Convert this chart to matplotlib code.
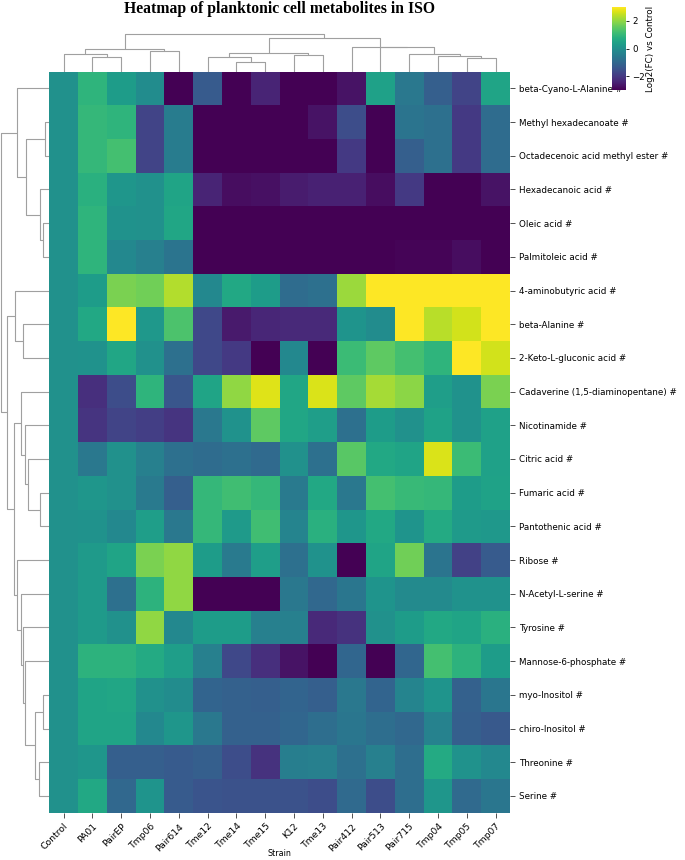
import numpy as np
import matplotlib
matplotlib.use("Agg")
import matplotlib.pyplot as plt
from matplotlib.collections import LineCollection

# ---- data ----
strains = ["Control", "PA01", "PairEP", "Tmp06", "Pair614", "Tme12", "Tme14", "Tme15",
           "K12", "Tme13", "Pair412", "Pair513", "Pair715", "Tmp04", "Tmp05", "Tmp07"]

metabolites = [
    "beta-Cyano-L-Alanine #",
    "Methyl hexadecanoate #",
    "Octadecenoic acid methyl ester #",
    "Hexadecanoic acid #",
    "Oleic acid #",
    "Palmitoleic acid #",
    "4-aminobutyric acid #",
    "beta-Alanine #",
    "2-Keto-L-gluconic acid #",
    "Cadaverine (1,5-diaminopentane) #",
    "Nicotinamide #",
    "Citric acid #",
    "Fumaric acid #",
    "Pantothenic acid #",
    "Ribose #",
    "N-Acetyl-L-serine #",
    "Tyrosine #",
    "Mannose-6-phosphate #",
    "myo-Inositol #",
    "chiro-Inositol #",
    "Threonine #",
    "Serine #",
]

# log2(FC) vs Control, one row per metabolite (column order = strains)
log2fc = np.array([
    [0, 0.9, 0.3, -0.1, -3, -1.3, -3, -2.4, -3, -3, -2.7, 0.4, -0.6, -1.2, -1.8, 0.5],
    [0, 1.0, 0.9, -1.8, -0.5, -3, -3, -3, -3, -2.7, -1.6, -3, -0.7, -0.8, -2.0, -0.9],
    [0, 1.0, 1.2, -1.8, -0.5, -3, -3, -3, -3, -3, -2.0, -3, -1.2, -0.8, -2.0, -0.9],
    [0, 0.8, 0.15, 0.0, 0.5, -2.4, -2.8, -2.75, -2.55, -2.45, -2.45, -2.8, -2.0, -3, -3, -2.7],
    [0, 0.9, 0.05, 0.0, 0.55, -3, -3, -3, -3, -3, -3, -3, -3, -3, -3, -3],
    [0, 0.9, -0.2, -0.4, -0.7, -3, -3, -3, -3, -3, -3, -3, -2.95, -2.95, -2.8, -3],
    [0, 0.3, 1.8, 1.7, 2.3, -0.2, 0.6, 0.3, -0.9, -0.8, 2.1, 3, 3, 3, 3, 3],
    [0, 0.6, 3, 0.2, 1.3, -1.7, -2.6, -2.35, -2.3, -2.3, 0.1, -0.1, 3, 2.35, 2.6, 3],
    [0, 0.05, 0.55, 0, -0.8, -1.7, -2.0, -3, -0.2, -3, 1.1, 1.5, 1.2, 0.9, 3, 2.6],
    [0, -2.2, -1.6, 0.9, -1.4, 0.5, 2.0, 2.7, 0.55, 2.65, 1.5, 2.2, 1.95, 0.35, 0.05, 1.8],
    [0, -2.1, -1.8, -1.9, -2.1, -0.6, 0.05, 1.5, 0.55, 0.35, -0.8, 0.3, 0.0, 0.45, 0.05, 0.4],
    [0, -0.6, 0, -0.4, -0.8, -0.9, -0.8, -0.95, 0, -0.8, 1.45, 0.6, 0.5, 2.65, 1.1, 0.4],
    [0, 0.15, 0, -0.55, -1.2, 1.0, 1.15, 1.0, -0.55, 0.6, -0.6, 1.2, 1.05, 1.0, 0.3, 0.45],
    [0, 0.05, -0.2, 0.35, -0.6, 1.0, 0.25, 1.15, -0.3, 0.8, 0.15, 0.6, 0.1, 0.65, 0.25, 0.2],
    [0, 0.25, 0.5, 1.8, 2.0, 0.3, -0.55, 0.35, -0.8, 0.05, -3, 0.5, 1.7, -0.7, -1.85, -1.3],
    [0, 0.25, -0.8, 0.85, 2.0, -3, -3, -3, -0.6, -1.0, -0.65, 0.1, -0.15, -0.15, 0.05, 0.05],
    [0, 0.25, 0.0, 2.0, -0.2, 0.3, 0.3, -0.4, -0.4, -2.3, -2.15, 0.0, 0.3, 0.6, 0.5, 0.8],
    [0, 0.85, 0.85, 0.65, 0.35, -0.4, -1.7, -2.2, -2.7, -3, -1.05, -3, -1.05, 1.2, 0.85, 0.3],
    [0, 0.5, 0.55, 0, -0.1, -1.1, -1.15, -1.2, -1.1, -1.2, -0.6, -1.1, -0.3, 0.1, -1.15, -0.65],
    [0, 0.5, 0.5, -0.2, 0.15, -0.6, -1.15, -1.15, -1.05, -0.85, -0.65, -0.85, -1.0, -0.35, -1.2, -1.35],
    [0, 0.15, -1.2, -1.2, -1.3, -1.2, -1.6, -2.15, -0.45, -0.4, -0.8, -0.4, -0.85, 0.65, 0.05, -0.2],
    [0, 0.6, -1.0, 0.1, -1.3, -1.45, -1.5, -1.5, -1.5, -1.6, -0.95, -1.6, -0.85, 0.15, -0.95, -0.65],
])

# dendrograms as (left, right, merge height); leaves = display index
col_tree = (
    ((0, (1, 2, 15.0), 17.3), (3, 4, 21.0), 22.3),
    (((5, (6, 7, 10.0), 14.3), (8, 9, 16.7), 18.3),
     (10, (11, (12, (13, (14, 15, 13.3), 15.3), 17.3), 24.3), 25.0), 34.0),
    37.7,
)
row_tree = (
    (0, ((1, 2, 4.0), (3, (4, 5, 6.3), 9.3), 23.3), 32.0),
    ((6, (7, 8, 26.0), 34.6),
     ((9, (10, (11, (12, 13, 9.3), 21.3), 24.0), 28.0),
      (14, (15, (16, (17, ((18, 19, 6.6), (20, 21, 10.6), 14.0), 24.7), 26.0), 28.0), 32.6),
      35.3),
     42.0),
    48.6,
)


def tree_segments(node, segs):
    """return (position, height) of node, appending U-links to segs"""
    if isinstance(node, int):
        return node + 0.5, 0.0
    left, right, h = node
    pl, hl = tree_segments(left, segs)
    pr, hr = tree_segments(right, segs)
    segs.append([(pl, hl), (pl, h), (pr, h), (pr, hr)])
    return (pl + pr) / 2, h


W, H = 685, 860
fig = plt.figure(figsize=(W / 100, H / 100), dpi=100)


def px_axes(x0, y0, x1, y1):
    return fig.add_axes([x0 / W, 1 - y1 / H, (x1 - x0) / W, (y1 - y0) / H])


hm_l, hm_r, hm_t, hm_b = 49.3, 510.0, 71.5, 812.8
line_kw = dict(colors="#a0a0a0", linewidths=0.8)

# heatmap
ax = px_axes(hm_l, hm_t, hm_r, hm_b)
mesh = ax.pcolormesh(np.arange(len(strains) + 1), np.arange(len(metabolites) + 1), log2fc,
                     cmap="viridis", vmin=-3, vmax=3)
ax.set_xlim(0, len(strains))
ax.set_ylim(len(metabolites), 0)
for s in ax.spines.values():
    s.set_visible(False)
ax.set_xticks(np.arange(len(strains)) + 0.5)
ax.set_xticklabels(strains, rotation=45, ha="right", rotation_mode="anchor", fontsize=6.7)
ax.yaxis.tick_right()
ax.set_yticks(np.arange(len(metabolites)) + 0.5)
ax.set_yticklabels(metabolites, fontsize=6.3)
ax.tick_params(length=3.5, width=0.6, color="#333333", pad=3)

fig.text((hm_l + hm_r) / 2 / W, 1 - 854 / H, "Strain", ha="center", va="center", fontsize=5.8)

# column dendrogram
axc = px_axes(hm_l, 32.0, hm_r, hm_t)
segs = []
tree_segments(col_tree, segs)
axc.add_collection(LineCollection(segs, **line_kw))
axc.set_xlim(0, len(strains))
axc.set_ylim(0, 39.5)
axc.set_axis_off()

# row dendrogram
axr = px_axes(0, hm_t, hm_l, hm_b)
segs = []
tree_segments(row_tree, segs)
axr.add_collection(LineCollection([[(h, p) for p, h in s] for s in segs], **line_kw))
axr.set_ylim(len(metabolites), 0)
axr.set_xlim(hm_l, 0)
axr.set_axis_off()

# colorbar
axcb = px_axes(612, 7, 626, 90)
cb = fig.colorbar(mesh, cax=axcb, ticks=[-2, 0, 2])
cb.outline.set_linewidth(0)
cb.ax.tick_params(labelsize=6.2, length=2.5, width=0.6, pad=2)
cb.set_label("Log2(FC) vs Control", fontsize=6.3, labelpad=1)

fig.text((hm_l + hm_r) / 2 / W, 1 - 9 / H, "Heatmap of planktonic cell metabolites in ISO",
         ha="center", va="center", fontsize=11.3, fontweight="bold", family="Liberation Serif")

fig.savefig("out.png", dpi=100)
plt.close(fig)
